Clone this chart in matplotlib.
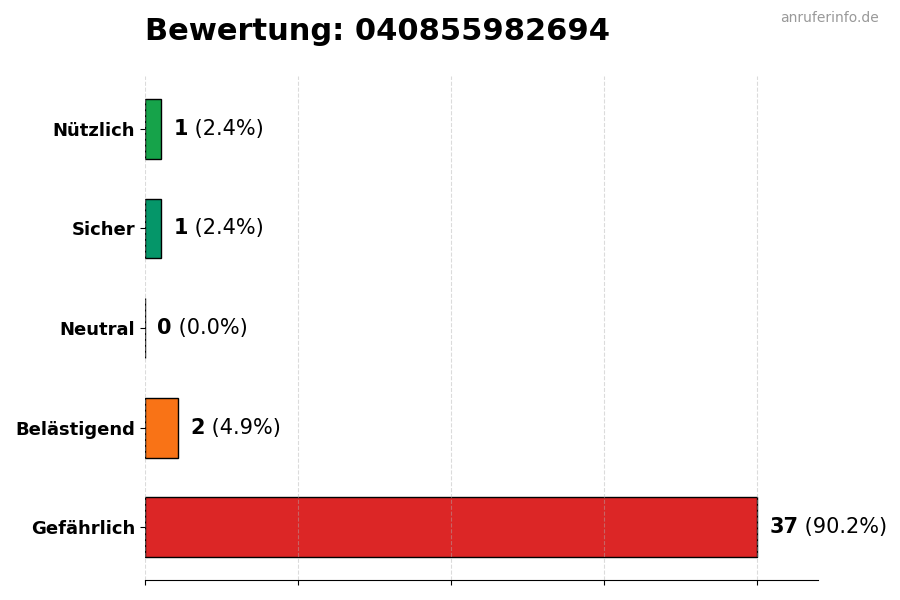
import matplotlib.pyplot as plt

categories = ['Gefährlich', 'Belästigend', 'Neutral', 'Sicher', 'Nützlich']
counts = [37, 2, 0, 1, 1]
colors = ['#dc2626', '#f97316', '#9ca3af', '#059669', '#16a34a']
phone = '040855982694'

total = sum(counts)

fig = plt.figure(figsize=(9, 6), dpi=100)
ax = fig.add_axes([0.161, 0.0333, 0.748, 0.84])

bars = ax.barh(categories, counts, height=0.6, color=colors,
               edgecolor='black', linewidth=1)

vmax = max(counts)
ax.set_xlim(0, vmax * 1.1)
ax.set_xticks([vmax * i / 4 for i in range(5)])
ax.set_xticklabels([])
ax.grid(axis='x', linestyle='--', color='#b0b0b0', alpha=0.45)
ax.set_axisbelow(False)

for s in ['top', 'right', 'left']:
    ax.spines[s].set_visible(False)

for lbl in ax.get_yticklabels():
    lbl.set_fontweight('bold')
    lbl.set_fontsize(13)

for i, c in enumerate(counts):
    pct = c / total * 100
    t1 = ax.annotate(str(c), xy=(c, i), xytext=(9, 0), textcoords='offset points',
                     va='center', ha='left', fontsize=15, fontweight='bold')
    ax.annotate(f' ({pct:.1f}%)', xy=(1, 0), xycoords=t1, va='bottom', ha='left',
                fontsize=15)

fig.text(0.161, 0.947, f'Bewertung: {phone}', fontsize=22, fontweight='bold',
         ha='left', va='center')
fig.text(0.976, 0.97, 'anruferinfo.de', fontsize=10, color='#999999',
         ha='right', va='center')

fig.savefig('out.png', dpi=100)
